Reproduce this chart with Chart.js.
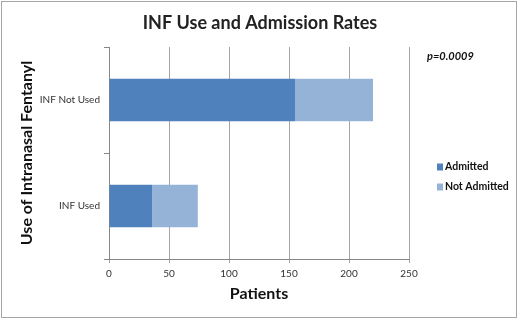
<!DOCTYPE html>
<html>
<head>
<meta charset="utf-8">
<script src="https://cdn.jsdelivr.net/npm/chart.js@4/dist/chart.umd.min.js"></script>
<style>
  html, body { margin: 0; padding: 0; background: #fff; }
</style>
</head>
<body>
<canvas id="chart" width="520" height="320"></canvas>
<script>
// categories (top to bottom)
const categories = ["INF Not Used", "INF Used"];
// series values
const admitted = [155, 36];
const notAdmitted = [65, 38];
const seriesNames = ["Admitted", "Not Admitted"];
const seriesColors = ["#4f81bd", "#95b3d7"];
// x axis
const xMin = 0;
const xMax = 250;
const xStep = 50;
const pValueText = "p=0.0009";

const FONT = "Lato, 'Open Sans', sans-serif";

// frame around the whole chart + p value + legend drawn on the right
const extras = {
    id: "extras",
    afterDraw(chart) {
        const ctx = chart.ctx;
        ctx.save();
        // outer frame
        ctx.strokeStyle = "#a6a6a6";
        ctx.lineWidth = 1;
        ctx.strokeRect(1.5, 1.5, 515, 316);

        // p value
        ctx.fillStyle = "#111";
        ctx.font = "italic bold 11px " + FONT;
        ctx.textBaseline = "middle";
        ctx.textAlign = "left";
        ctx.fillText(pValueText, 427, 56);

        // legend
        ctx.font = "bold 10.5px " + FONT;
        chart.data.datasets.forEach((ds, i) => {
            const y = 167 + i * 20;
            ctx.fillStyle = ds.backgroundColor;
            ctx.fillRect(437, y - 3.5, 6, 7);
            ctx.fillStyle = "#111";
            ctx.fillText(ds.label, 445, y);
        });
        ctx.restore();
    }
};

const myChart = new Chart(document.getElementById("chart"), {
    type: "bar",
    plugins: [extras],
    data: {
        labels: categories,
        datasets: [
            { label: seriesNames[0], data: admitted, backgroundColor: seriesColors[0] },
            { label: seriesNames[1], data: notAdmitted, backgroundColor: seriesColors[1] },
        ],
    },
    options: {
        indexAxis: "y",
        responsive: false,
        animation: false,
        layout: { padding: 0 },
        datasets: {
            bar: { categoryPercentage: 1, barPercentage: 0.4 },
        },
        plugins: {
            legend: { display: false },
            tooltip: { enabled: false },
            title: {
                display: true,
                text: "INF Use and Admission Rates",
                color: "#222",
                font: { family: FONT, size: 18, weight: "bold", lineHeight: 1.2 },
                padding: { top: 12, bottom: 13.4 },
            },
        },
        scales: {
            x: {
                stacked: true,
                min: xMin,
                max: xMax,
                ticks: {
                    stepSize: xStep,
                    color: "#333",
                    font: { family: FONT, size: 10 },
                    padding: 5,
                },
                grid: { color: "#a6a6a6", tickLength: 4 },
                border: { color: "#868686" },
                title: {
                    display: true,
                    text: "Patients",
                    color: "#111",
                    font: { family: FONT, size: 16, weight: "bold", lineHeight: 1.2 },
                    padding: { top: 0, bottom: 16.5 },
                },
                afterFit: (scale) => { scale.height = 61; },
            },
            y: {
                stacked: true,
                ticks: {
                    color: "#333",
                    font: { family: FONT, size: 10 },
                    padding: 4,
                },
                grid: { drawOnChartArea: false, tickLength: 5, color: "#868686" },
                border: { color: "#868686" },
                title: {
                    display: true,
                    text: "Use of Intranasal Fentanyl",
                    color: "#111",
                    font: { family: FONT, size: 16, weight: "bold", lineHeight: 1.2 },
                    padding: { top: 17.4, bottom: 0 },
                },
                afterFit: (scale) => { scale.width = 109; },
            },
            // empty right-hand axis that reserves the space for the legend and p value
            side: {
                type: "linear",
                position: "right",
                ticks: { display: false },
                grid: { display: false },
                border: { display: false },
                afterFit: (scale) => { scale.width = 111; },
            },
        },
    },
});
</script>
</body>
</html>
